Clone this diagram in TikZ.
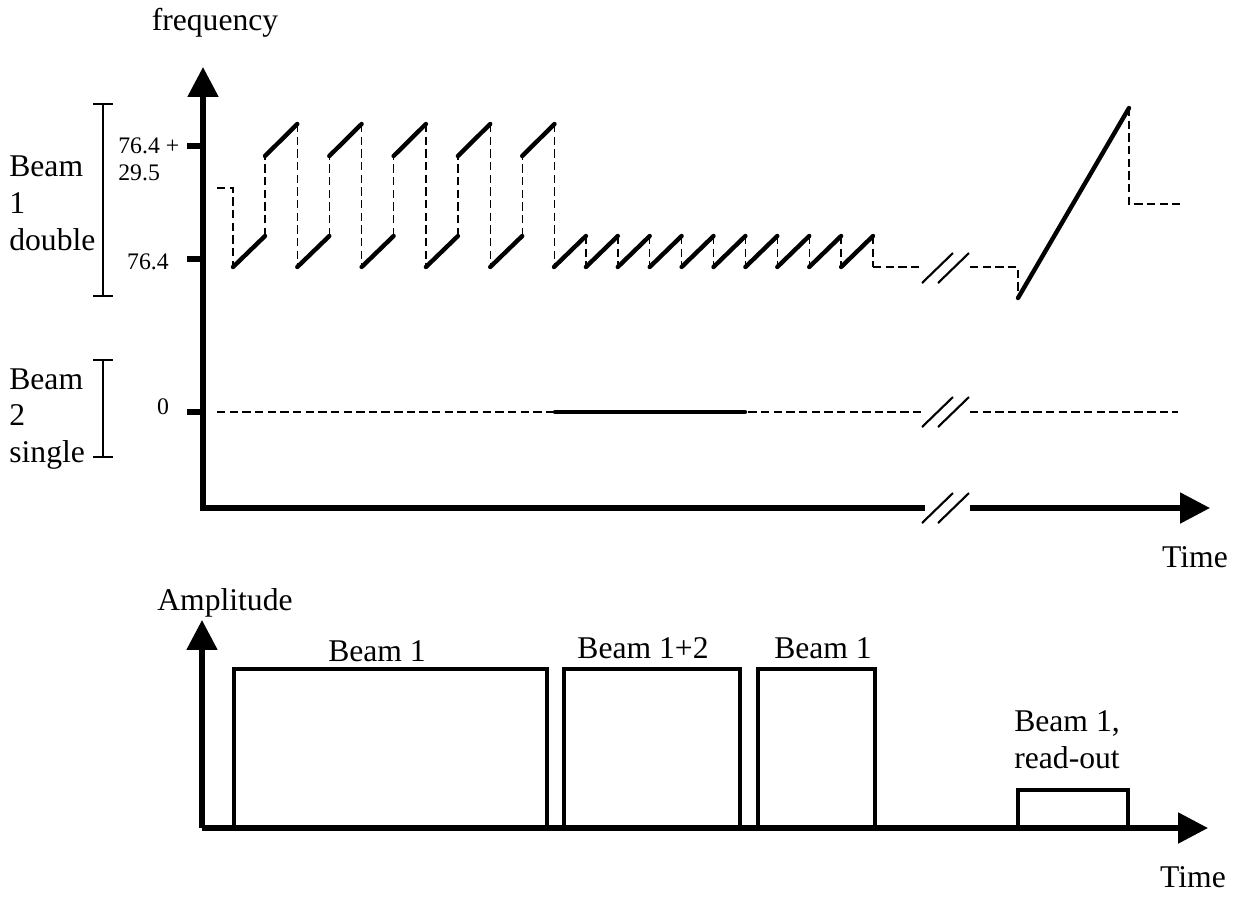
\documentclass[tikz,border=0pt]{standalone}
\usepackage{fontspec}
\setmainfont{Liberation Serif}
\usetikzlibrary{arrows.meta, positioning, calc}

\tikzset{
    axis/.style={line width=3pt, -{Triangle[length=17pt, width=17pt]}},
    axisline/.style={line width=3pt, line cap=rect},
    ramp/.style={line width=2.5pt, line cap=round},
    jump/.style={line width=0.8pt, dash pattern=on 4.8pt off 2.4pt},
    pulse/.style={line width=2.1pt},
    brace/.style={line width=1pt},
    slash/.style={line width=1.2pt},
    lbl/.style={font=\fontsize{18}{21}\selectfont, inner sep=0pt},
    val/.style={font=\fontsize{13.5}{15.3}\selectfont, inner sep=0pt}
}

\begin{document}
\begin{tikzpicture}[x=0.02cm, y=-0.02cm]
\useasboundingbox (0,0) rectangle (1237,897);
% Frequency plot
\coordinate (fo) at (203,508);
\coordinate (ftop) at (203,67);
\coordinate (fend) at (1210,508);
\draw[axis] (fo) -- (ftop);
\draw[axisline] (fo) -- (922,508);
\draw[axis] (970,508) -- (fend);
\node[lbl] (freq) at (215,23) {frequency};
\node[lbl] (time1) at (1195,557) {Time};
% ticks and values
\foreach \y in {146,259,412}
    \draw[line width=3pt] (187,\y) -- (fo |- 0,\y);
\node[val, align=left, anchor=west] (hi) at (118,159) {76.4 +\\29.5};
\node[val] (lo) at (148,262) {76.4};
\node[val] (zero) at (163,407) {0};
% beam brackets
\draw[brace] (93,104) -- (113,104) (103,104) -- (103,296) (93,296) -- (113,296);
\draw[brace] (93,360) -- (113,360) (103,360) -- (103,457) (93,457) -- (113,457);
\node[lbl, align=left, anchor=west] (beamone) at (9,203) {Beam\\1\\double};
\node[lbl, align=left, anchor=west] (beamtwo) at (9,419) {Beam\\2\\single};
% beam 1 sweeps
\draw[jump] (217,188) -- (233,188) -- (233,267);
\foreach \x in {233,297.3,361.6,425.9,490.2} {
    \draw[ramp] (\x,267) -- (\x+32,236);
    \draw[jump] (\x+32,236) -- (\x+32,156);
    \draw[ramp] (\x+32,156) -- (\x+64.3,124);
    \draw[jump] (\x+64.3,124) -- (\x+64.3,267);
}
\foreach \x in {554,585.9,617.8,649.7,681.6,713.5,745.4,777.3,809.2,841.1} {
    \draw[ramp] (\x,267) -- (\x+31.9,236);
    \draw[jump] (\x+31.9,236) -- (\x+31.9,267);
}
\draw[jump] (873,267) -- (922,267);
\draw[jump] (970,267) -- (1018,267) -- (1018,298);
\draw[ramp] (1018,298) -- (1129,108);
\draw[jump] (1129,108) -- (1129,204) -- (1180,204);
% beam 2
\draw[jump] (217,412) -- (922,412);
\draw[jump] (970,412) -- (1178,412);
\draw[ramp] (555,412) -- (745,412);
% breaks
\foreach \y in {268,412,508} {
    \draw[slash] (922,\y+15) -- (953,\y-15);
    \draw[slash] (938,\y+15) -- (969,\y-15);
}
% Amplitude plot
\coordinate (ao) at (202,828);
\draw[axis] (ao) -- (202,620);
\draw[axis] (ao) -- (1208,828);
\node[lbl] (ampl) at (225,603) {Amplitude};
\node[lbl] (time2) at (1193,877) {Time};
\foreach \l/\r/\t in {234/547/669, 564/740/669, 758/875/669, 1018/1128/790}
    \draw[pulse] (\l,828) -- (\l,\t) -- (\r,\t) -- (\r,828);
\node[lbl] (pa) at (377,651) {Beam 1};
\node[lbl] (pb) at (643,648) {Beam 1+2};
\node[lbl] (pc) at (823,648) {Beam 1};
\node[lbl, align=center] (pd) at (1067,740) {Beam 1,\\read-out};
\end{tikzpicture}
\end{document}
